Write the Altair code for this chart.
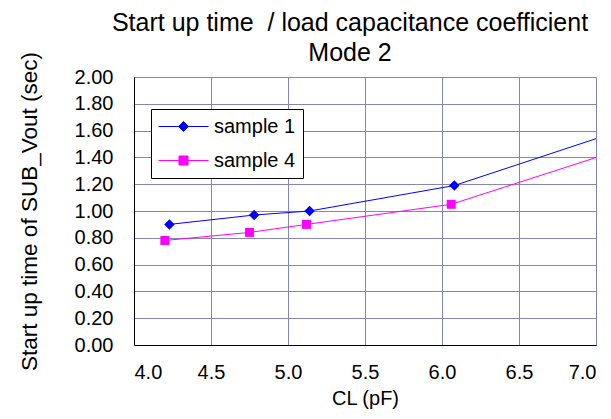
import altair as alt
import pandas as pd

# ---- data ----
series_names = ["sample 1", "sample 4"]
cl_sample1 = [4.23, 4.78, 5.14, 6.08, 8.0]
t_sample1 = [0.90, 0.97, 1.00, 1.19, 1.92]
cl_sample4 = [4.20, 4.75, 5.12, 6.06, 8.0]
t_sample4 = [0.78, 0.84, 0.90, 1.05, 1.77]
x_ticks = [4.0, 4.5, 5.0, 5.5, 6.0, 6.5, 7.0]
y_ticks = [0.0, 0.2, 0.4, 0.6, 0.8, 1.0, 1.2, 1.4, 1.6, 1.8, 2.0]
colors = ["#0000FF", "#FF00FF"]

df = pd.DataFrame(
    {
        "cl": cl_sample1 + cl_sample4,
        "t": t_sample1 + t_sample4,
        "series": [series_names[0]] * len(cl_sample1) + [series_names[1]] * len(cl_sample4),
    }
)

FONT = "Liberation Sans"
GRID = "#8686b2"

x_enc = alt.X(
    "cl:Q",
    scale=alt.Scale(domain=[4.0, 7.0], nice=False, zero=False),
    axis=alt.Axis(
        values=x_ticks,
        format=".1f",
        title="CL (pF)",
        grid=True,
        gridColor=GRID,
        gridOpacity=1,
        domainColor="black",
        ticks=False,
        labelPadding=17,
        labelFontSize=20,
        labelColor="black",
        labelFont=FONT,
        titleFont=FONT,
        titleFontSize=20,
        titleFontWeight="normal",
        titleColor="black",
        titlePadding=6,
    ),
)
y_enc = alt.Y(
    "t:Q",
    scale=alt.Scale(domain=[0.0, 2.0], nice=False),
    axis=alt.Axis(
        values=y_ticks,
        format=".2f",
        title="Start up time of SUB_Vout (sec)",
        grid=True,
        gridColor=GRID,
        gridOpacity=1,
        domainColor="black",
        ticks=False,
        labelPadding=21,
        labelFontSize=20,
        labelColor="black",
        labelFont=FONT,
        titleFont=FONT,
        titleFontSize=22.5,
        titleFontWeight="normal",
        titleColor="black",
        titlePadding=33,
    ),
)

color_scale = alt.Scale(domain=series_names, range=colors)

lines = (
    alt.Chart(df)
    .mark_line(strokeWidth=1, clip=True)
    .encode(x=x_enc, y=y_enc, color=alt.Color("series:N", scale=color_scale, legend=None))
)

points = (
    alt.Chart(df)
    .mark_point(filled=True, opacity=1, clip=True)
    .encode(
        x=x_enc,
        y=y_enc,
        color=alt.Color("series:N", scale=color_scale, legend=None),
        shape=alt.Shape(
            "series:N",
            scale=alt.Scale(domain=series_names, range=["diamond", "square"]),
            legend=None,
        ),
        size=alt.Size(
            "series:N",
            scale=alt.Scale(domain=series_names, range=[110, 80]),
            legend=None,
        ),
    )
)

legend_paths = [
    "M-2.5,0H2.5M0,-0.5L0.5,0L0,0.5L-0.5,0Z",
    "M-2.5,0H2.5M-0.45,-0.45H0.45V0.45H-0.45Z",
]

legend_layer = (
    alt.Chart(df)
    .transform_filter("datum.t > 100")
    .mark_point(filled=False, opacity=1, size=400, strokeWidth=1)
    .encode(
        x=x_enc,
        y=y_enc,
        stroke=alt.Stroke("series:N", scale=color_scale, title=None),
        fill=alt.Fill("series:N", scale=color_scale, title=None),
        shape=alt.Shape(
            "series:N",
            scale=alt.Scale(domain=series_names, range=legend_paths),
            title=None,
            legend=alt.Legend(
                orient="none",
                legendX=17,
                legendY=32,
                padding=7,
                strokeColor="black",
                fillColor="white",
                cornerRadius=0,
                symbolSize=400,
                symbolOffset=15,
                symbolStrokeWidth=1,
                symbolOpacity=1,
                labelFont=FONT,
                labelFontSize=20,
                labelColor="black",
                labelOffset=20,
                rowPadding=13,
            ),
        ),
    )
)

chart = (
    alt.layer(lines, points, legend_layer)
    .resolve_scale(
        shape="independent",
        size="independent",
        fill="independent",
        stroke="independent",
        color="independent",
    )
    .properties(
        width=462,
        height=268,
        padding={"left": 126, "top": 69, "right": 7, "bottom": 66},
        autosize=alt.AutoSizeParams(type="none"),
        title=alt.Title(
            ["Start up time \u00a0/ load capacitance coefficient", "Mode 2"],
            font=FONT,
            fontSize=25,
            fontWeight="normal",
            color="black",
            anchor="middle",
            frame="group",
            lineHeight=30,
            dx=-15,
            dy=22,
            offset=8,
        ),
    )
    .configure_view(stroke=GRID, strokeWidth=1)
    .configure(background="white")
)

chart.save("out.html", embed_options={"renderer": "svg", "actions": False})
